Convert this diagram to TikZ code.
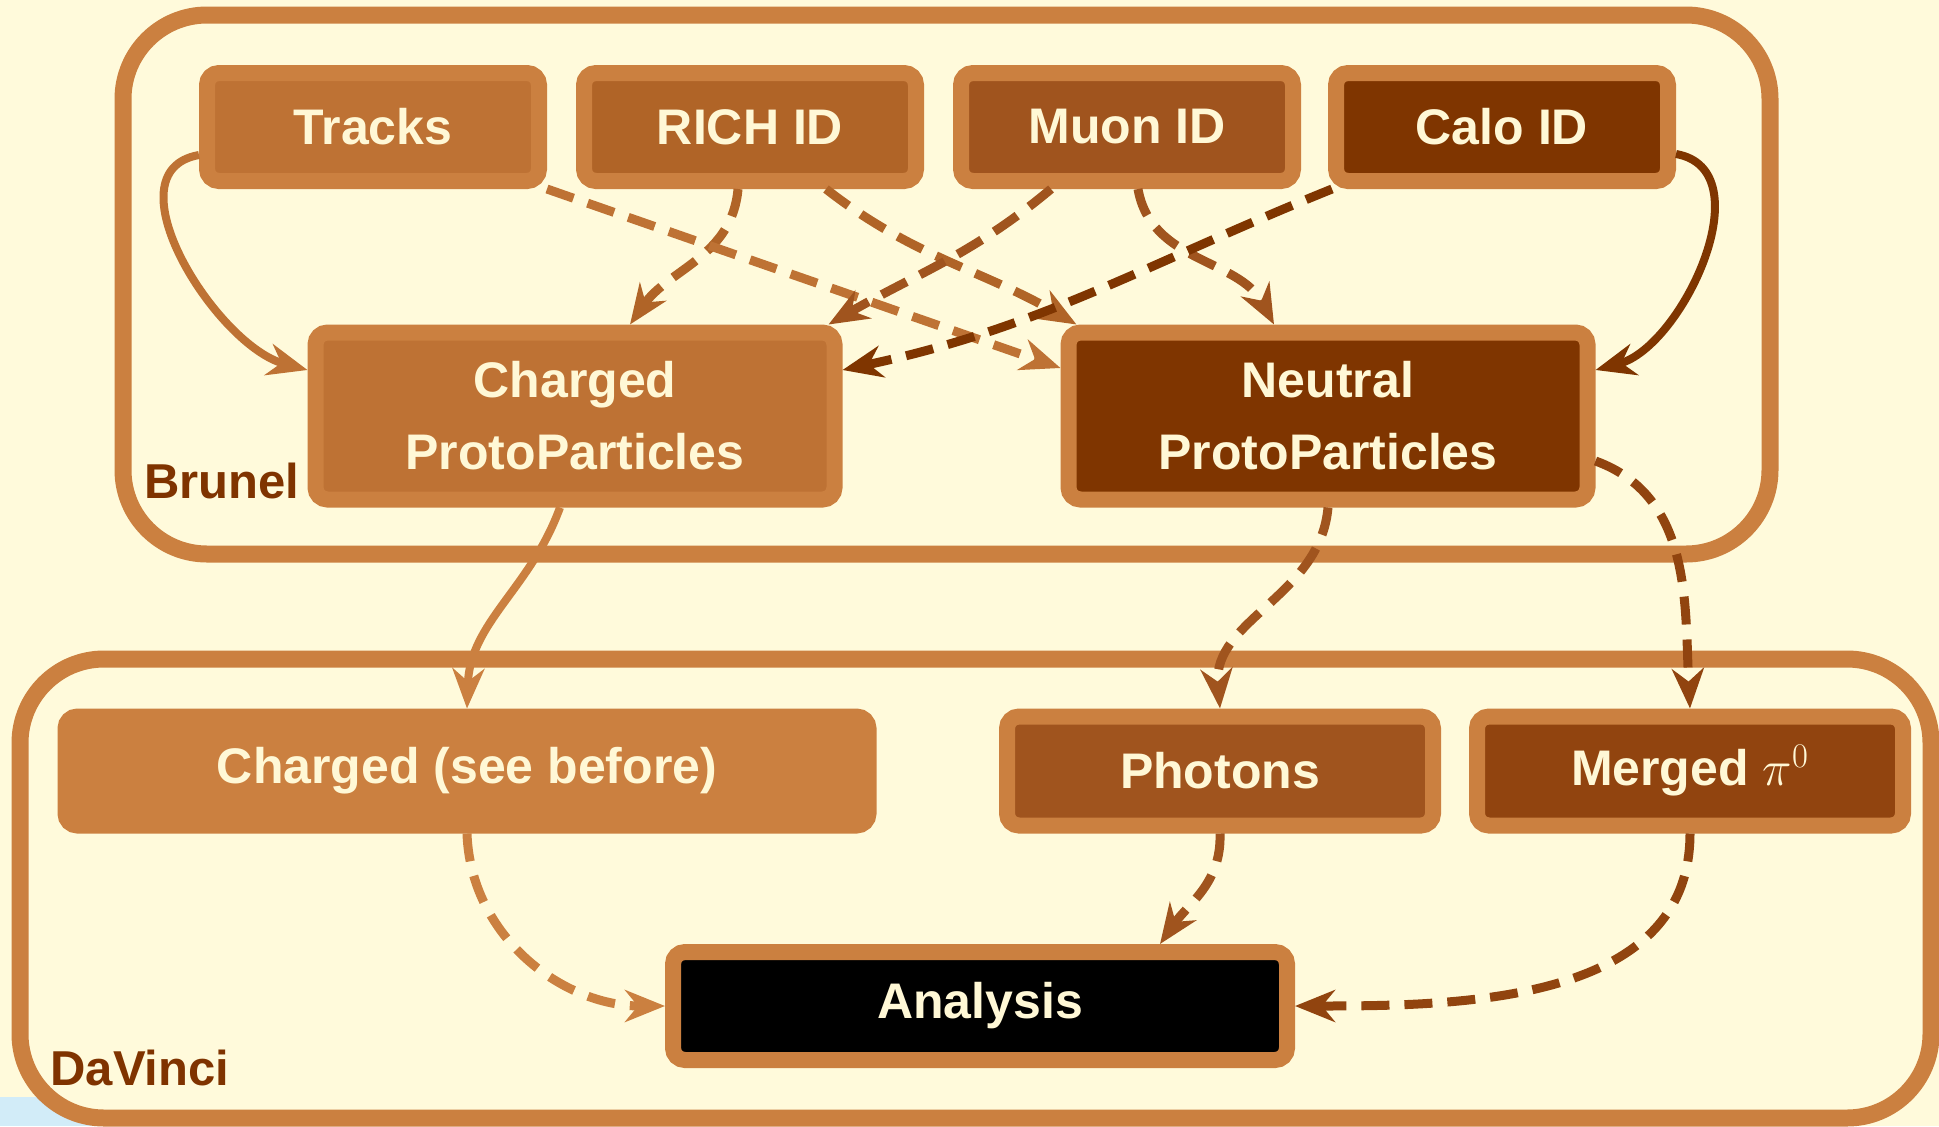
\documentclass[tikz,border=0pt]{standalone}
\usepackage{fontspec}
\setmainfont{Liberation Sans}
\usetikzlibrary{arrows.meta,calc}
\definecolor{bg}{HTML}{FFFADB}
\definecolor{bord}{HTML}{CB8040}
\definecolor{ctracks}{HTML}{BE7234}
\definecolor{crich}{HTML}{B06427}
\definecolor{cmuon}{HTML}{A0541E}
\definecolor{ccalo}{HTML}{7F3500}
\definecolor{cmerged}{HTML}{91440F}
\definecolor{txt}{HTML}{FFF8D6}
\definecolor{lbl}{HTML}{7F3300}
\definecolor{bluebg}{HTML}{D2ECF8}
\begin{document}
\begin{tikzpicture}[x=0.5pt,y=-0.5pt,
  box/.style={draw=bord, line width=8pt, rounded corners=6pt, text=txt,
    font=\fontsize{25pt}{36pt}\selectfont\bfseries, align=center, inner sep=0pt},
  topbox/.style={box, minimum width=166pt, minimum height=54pt},
  ppbox/.style={box, minimum width=259.5pt, minimum height=83.5pt},
  lowbox/.style={box, minimum height=54.5pt},
  frame/.style={draw=bord, line width=8.5pt, rounded corners=42pt, fill=bg},
  grouplabel/.style={anchor=base west, text=lbl, inner sep=0pt,
    font=\fontsize{24.5pt}{30pt}\selectfont\bfseries},
  tip/.style={-{Stealth[length=20pt,width=16pt,inset=6.5pt]}},
  conn/.style={tip, line width=4pt},
  dconn/.style={tip, line width=4.5pt, dash pattern=on 14pt off 7.5pt},
]
\useasboundingbox (0,0) rectangle (1939,1126);
\fill[bg] (0,0) rectangle (1939,1126);
\fill[bluebg] (0,1097) rectangle (200,1126);

% group frames
\draw[frame] (123,15) rectangle (1770,554);
\draw[frame] (20,659) rectangle (1931,1118);
\node[grouplabel] (brunel) at (144,498) {Brunel};
\node[grouplabel] (davinci) at (50,1085) {DaVinci};

% nodes
\node[topbox, fill=ctracks] (tracks) at (373,127) {Tracks};
\node[topbox, fill=crich] (rich) at (750,127) {RICH ID};
\node[topbox, fill=cmuon] (muon) at (1127,127) {Muon ID};
\node[topbox, fill=ccalo] (calo) at (1502,127) {Calo ID};
\node[ppbox, fill=ctracks] (chargedpp) at (575,416) {Charged\\ProtoParticles};
\node[ppbox, fill=ccalo] (neutralpp) at (1328,416) {Neutral\\ProtoParticles};
\node[lowbox, fill=bord, minimum width=401.5pt] (chargedsee) at (467,771) {Charged (see before)};
\node[lowbox, fill=cmuon, minimum width=213pt] (photons) at (1220,771) {Photons};
\node[lowbox, fill=cmerged, minimum width=213pt] (merged) at (1690,771) {Merged $\pi^0$};
\node[box, fill=black, minimum width=307pt, minimum height=54pt] (analysis) at (980,1006) {Analysis};

% connectors
\draw[conn, color=ctracks] ($(tracks.west)+(0,28)$) to[out=190,in=165] ($(chargedpp.west)+(0,-46)$);
\draw[dconn, color=crich] ($(rich.south)+(-12,0)$) to[out=265,in=55] ($(chargedpp.north)+(55,0)$);
\draw[dconn, color=crich] ($(rich.south)+(76,0)$) to[out=-38,in=150] ($(neutralpp.north west)+(16,0)$);
\draw[dconn, color=ctracks] (tracks.south east) -- ($(neutralpp.west)+(0,-48)$);
\draw[dconn, color=cmuon] ($(muon.south)+(-76,0)$) to[out=220,in=30] ($(chargedpp.north east)+(-14,0)$);
\draw[dconn, color=cmuon] ($(muon.south)+(11,0)$) to[out=-80,in=118] ($(neutralpp.north)+(-54,0)$);
\draw[dconn, color=ccalo] ($(calo.south west)+(4,0)$) to[out=202,in=12] ($(chargedpp.east)+(0,-46)$);
\draw[conn, color=ccalo] ($(calo.east)+(0,27)$) to[out=-10,in=15] ($(neutralpp.east)+(0,-46)$);
\draw[conn, color=bord] ($(chargedpp.south)+(-15,0)$) to[out=250,in=88] (chargedsee.north);
\draw[dconn, color=cmuon] (neutralpp.south) to[out=265,in=95] (photons.north);
\draw[dconn, color=cmerged] ($(neutralpp.east)+(0,45)$) to[out=-20,in=93] (merged.north);
\draw[dconn, color=bord] (chargedsee.south) to[out=-88,in=180] (analysis.west);
\draw[dconn, color=cmuon] (photons.south) to[out=-88,in=55] ($(analysis.north)+(180,0)$);
\draw[dconn, color=cmerged] (merged.south) to[out=-90,in=0] (analysis.east);
\end{tikzpicture}
\end{document}
